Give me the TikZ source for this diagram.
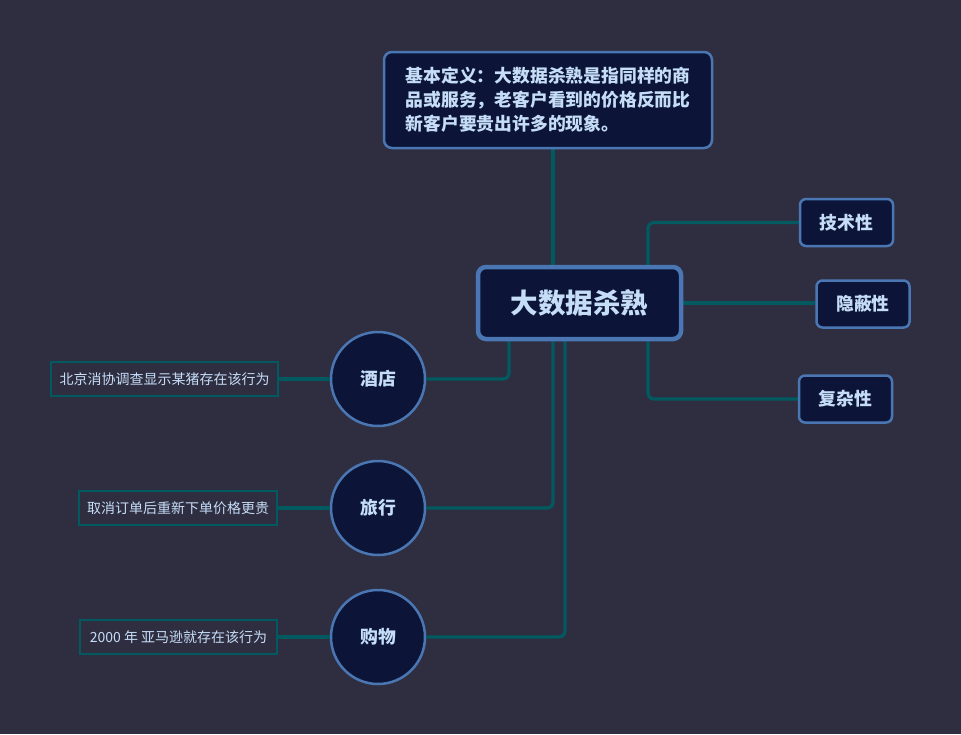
\documentclass[tikz,border=0pt]{standalone}
\usepackage{fontspec}
\newfontfamily\cjk{Noto Sans CJK SC}
\definecolor{bgc}{HTML}{2F2E40}
\definecolor{nodefill}{HTML}{0C1538}
\definecolor{edgeblue}{HTML}{4A77B4}
\definecolor{txt}{HTML}{C6DDF8}
\definecolor{conncol}{HTML}{005A60}
\pgfdeclarelayer{backfill}
\pgfdeclarelayer{lines}
\pgfsetlayers{backfill,lines,main}
\tikzset{
  box/.style={draw=edgeblue, fill=nodefill, text=txt, inner sep=0pt, font=\cjk\bfseries},
  defbox/.style={box, line width=2.5pt, rounded corners=8pt, minimum width=328pt, minimum height=96pt, align=left, font=\cjk\bfseries\fontsize{17.8}{24}\selectfont},
  centerbox/.style={box, line width=4.5pt, rounded corners=8pt, minimum width=203pt, minimum height=72pt, font=\cjk\bfseries\fontsize{27.5}{30}\selectfont},
  featbox/.style={box, line width=2.5pt, rounded corners=6pt, minimum width=93pt, minimum height=47pt, font=\cjk\bfseries\fontsize{17.8}{20}\selectfont},
  topiccircle/.style={box, circle, line width=2.5pt, minimum size=94pt, font=\cjk\bfseries\fontsize{17.8}{20}\selectfont},
  leafbox/.style={draw=conncol, fill=bgc, text=txt, line width=2.5pt, inner sep=0pt, minimum height=34pt, font=\cjk\fontsize{14}{16}\selectfont},
  conn/.style={draw=conncol, line width=3.2pt, rounded corners=6pt}
}
\begin{document}
\begin{tikzpicture}[x=1pt,y=-1pt]
\begin{pgfonlayer}{backfill}
\fill[bgc] (0,0) rectangle (961,734);
\end{pgfonlayer}
\useasboundingbox (0,0) rectangle (961,734);

\node[defbox] (def) at (548,100) {基本定义：大数据杀熟是指同样的商\\品或服务，老客户看到的价格反而比\\新客户要贵出许多的现象。};
\node[centerbox] (center) at (579.5,303) {大数据杀熟};

\node[featbox] (tech) at (846.5,222.5) {技术性};
\node[featbox] (hid) at (863,304) {隐蔽性};
\node[featbox] (cplx) at (845.5,399) {复杂性};

\node[topiccircle] (hotel) at (378,379) {酒店};
\node[topiccircle] (travel) at (378,508) {旅行};
\node[topiccircle] (shop) at (378,637) {购物};

\node[leafbox, minimum width=227pt] (leaf1) at (164.5,379) {北京消协调查显示某猪存在该行为};
\node[leafbox, minimum width=198pt] (leaf2) at (178,508) {取消订单后重新下单价格更贵};
\node[leafbox, minimum width=197pt] (leaf3) at (178.5,637) {2000 年 亚马逊就存在该行为};

\begin{pgfonlayer}{lines}
\draw[conn] ([xshift=5pt]def.south) -- ([xshift=-26.5pt]center.north);
\draw[conn] ([xshift=68.5pt]center.north) |- (tech.west);
\draw[conn] (center.east) -- (center.east -| hid.west);
\draw[conn] ([xshift=68.5pt]center.south) |- (cplx.west);
\draw[conn] ([xshift=-70.5pt]center.south) |- (hotel.east);
\draw[conn] ([xshift=-26.5pt]center.south) |- (travel.east);
\draw[conn] ([xshift=-14.5pt]center.south) |- (shop.east);
\draw[conn] (hotel.west) -- (leaf1.east);
\draw[conn] (travel.west) -- (leaf2.east);
\draw[conn] (shop.west) -- (leaf3.east);
\end{pgfonlayer}
\end{tikzpicture}
\end{document}
